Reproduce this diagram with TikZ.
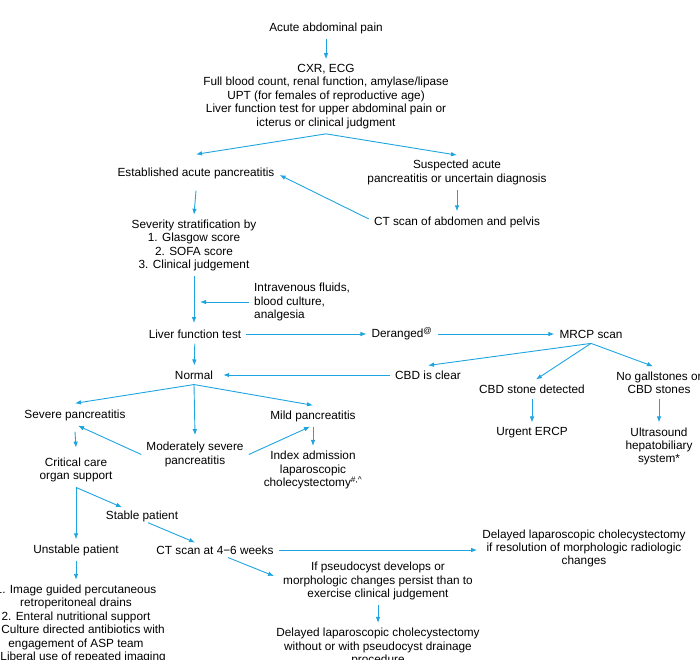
\documentclass[tikz,border=0pt]{standalone}
\usepackage{fontspec}
\setmainfont{Liberation Sans}
\usepackage{tikz}
\usetikzlibrary{arrows.meta}
\definecolor{flowblue}{RGB}{30,165,225}
\tikzstyle{arrow} = [->,>={Latex[length=6pt,width=4.6pt]},color=flowblue,line width=0.9pt]
\tikzstyle{flowtext} = [align=center, inner sep=5pt, font=\fontsize{11.8}{13.4}\selectfont]

\begin{document}
\begin{tikzpicture}[x=1pt, y=-1pt]
\useasboundingbox (0,0) rectangle (700,659);
\clip (0,0) rectangle (700,659);

% Work-up
\node[flowtext] (pain) at (326,28) {Acute abdominal pain};
\node[flowtext] (tests) at (326,96.5) {CXR, ECG\\Full blood count, renal function, amylase/lipase\\UPT (for females of reproductive age)\\Liver function test for upper abdominal pain or\\icterus or clinical judgment};
\node[flowtext] (est) at (196,173) {Established acute pancreatitis};
\node[flowtext] (susp) at (457,172.5) {Suspected acute\\pancreatitis or uncertain diagnosis};
\node[flowtext] (ctap) at (457,222) {CT scan of abdomen and pelvis};
\node[flowtext] (sev) at (194,245.5) {Severity stratification by\\1. Glasgow score\\2. SOFA score\\3. Clinical judgement};
\node[flowtext, align=left, anchor=west] (ivf) at (249,302) {Intravenous fluids,\\blood culture,\\analgesia};

\draw[arrow] (pain) -- (tests);
\draw[arrow] (tests.south) -- ([yshift=8pt]est.north);
\draw[arrow] (tests.south) -- (susp.north);
\draw[arrow] ([yshift=-7pt]est.south) -- (sev.north);
\draw[arrow] (susp) -- (ctap);
\draw[arrow] ([yshift=3pt]ctap.west) -- ([yshift=-2pt]est.east);
\draw[arrow] (sev.south) -- (sev.south |- 0,323);

% Gallstone work-up
\node[flowtext] (lft) at (195,334) {Liver function test};
\node[flowtext] (der) at (402,334) {Deranged\textsuperscript{@}};
\node[flowtext] (mrcp) at (591,334) {MRCP scan};
\node[flowtext] (normal) at (194,375) {Normal};
\node[flowtext] (cbdc) at (428,375) {CBD is clear};
\node[flowtext] (cbds) at (532,389) {CBD stone detected};
\node[flowtext] (nogs) at (659,382.5) {No gallstones or\\CBD stones};
\node[flowtext] (ercp) at (532,433) {Urgent ERCP};
\node[flowtext] (usg) at (659,446.5) {Ultrasound\\hepatobiliary\\system*};

\draw[arrow] (ivf.west) -- ([xshift=5pt]ivf.west -| lft.north);
\draw[arrow] (lft) -- (der);
\draw[arrow] (der) -- (mrcp);
\draw[arrow] (mrcp.south) -- (cbdc.north);
\draw[arrow] (mrcp.south) -- ([xshift=4pt]cbds.north);
\draw[arrow] (mrcp.south) -- ([xshift=-6pt]nogs.north);
\draw[arrow] (cbdc.west) -- ([xshift=5pt]normal.east);
\draw[arrow] (lft) -- (normal);
\draw[arrow] (cbds) -- (ercp);
\draw[arrow] (nogs) -- (usg);

% Severity
\node[flowtext] (sevp) at (75,415) {Severe pancreatitis};
\node[flowtext] (mods) at (195,454.5) {Moderately severe\\pancreatitis};
\node[flowtext] (mild) at (313,416) {Mild pancreatitis};
\node[flowtext] (index) at (313,470) {Index admission\\laparoscopic\\cholecystectomy\textsuperscript{\#,\textasciicircum}};
\node[flowtext] (crit) at (76,470) {Critical care\\organ support};

\draw[arrow] (normal.south) -- ([yshift=1pt]sevp.north);
\draw[arrow] (normal.south) -- ([yshift=2pt]mods.north);
\draw[arrow] (normal.south) -- (mild.north);
\draw[arrow] (mods.west) -- ([xshift=3pt]sevp.south);
\draw[arrow] (mods.east) -- ([xshift=-3pt]mild.south);
\draw[arrow] (mild.south) -- (index.north);
\draw[arrow] ([yshift=-6pt]sevp.south) -- ([yshift=5pt]crit.north);

% Late management
\node[flowtext] (stable) at (142,516) {Stable patient};
\node[flowtext] (unst) at (76,550) {Unstable patient};
\node[flowtext] (ct46) at (215,550) {CT scan at 4−6 weeks};
\node[flowtext] (dlc1) at (584,548.5) {Delayed laparoscopic cholecystectomy\\if resolution of morphologic radiologic\\changes};
\node[flowtext] (pseudo) at (378,581) {If pseudocyst develops or\\morphologic changes persist than to\\exercise clinical judgement};
\node[flowtext] (dlc2) at (378,647) {Delayed laparoscopic cholecystectomy\\without or with pseudocyst drainage\\procedure};
\node[flowtext] (care) at (76,624) {1. Image guided percutaneous\\retroperitoneal drains\\2. Enteral nutritional support\\3. Culture directed antibiotics with\\engagement of ASP team\\4. Liberal use of repeated imaging};

\draw[arrow] (crit.south) -- (unst.north);
\draw[arrow] (crit.south) -- ([xshift=-20pt,yshift=-2pt]stable.north);
\draw[arrow] ([xshift=6pt,yshift=4pt]stable.south) -- ([xshift=-20pt,yshift=-2pt]ct46.north);
\draw[arrow] (ct46.east) -- (ct46.east -| dlc1.west);
\draw[arrow] ([xshift=13pt,yshift=2pt]ct46.south) -- ([xshift=-4pt,yshift=5pt]pseudo.west);
\draw[arrow] (unst) -- (care);
\draw[arrow] (pseudo) -- (dlc2);
\end{tikzpicture}
\end{document}
